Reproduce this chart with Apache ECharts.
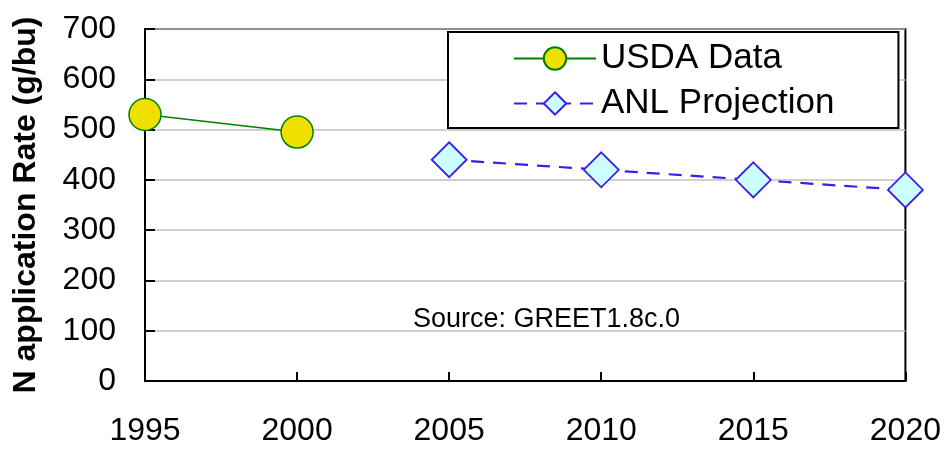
<!DOCTYPE html>
<html>
<head>
<meta charset="utf-8">
<script src="https://cdn.jsdelivr.net/npm/echarts@6/dist/echarts.min.js"></script>
<style>
  html, body { margin: 0; padding: 0; background: #fff; }
  #chart { width: 944px; height: 449px; }
</style>
</head>
<body>
<div id="chart"></div>
<script>
// Nitrogen application rate per bushel of corn
const usdaYears = [1995, 2000];
const usdaValues = [530, 495];
const anlYears = [2005, 2010, 2015, 2020];
const anlValues = [440, 420, 400, 380];
const yTicks = [0, 100, 200, 300, 400, 500, 600, 700];
const xTicks = [1995, 2000, 2005, 2010, 2015, 2020];
const yTitle = 'N application Rate (g/bu)';
const sourceNote = 'Source: GREET1.8c.0';
const seriesNames = ['USDA Data', 'ANL Projection'];

const FONT = '"Liberation Sans", Arial, sans-serif';
const pair = (xs, ys) => xs.map((x, i) => [x, ys[i]]);

const chart = echarts.init(document.getElementById('chart'), null, { renderer: 'canvas' });
chart.setOption({
  animation: false,
  backgroundColor: '#ffffff',
  textStyle: { fontFamily: FONT, color: '#000' },
  title: {
    text: sourceNote,
    left: 413,
    top: 306,
    padding: 0,
    textStyle: { fontFamily: FONT, fontSize: 27, fontWeight: 'normal', color: '#000' }
  },
  grid: {
    left: 145, top: 29, right: 37, bottom: 68,
    show: true, borderColor: '#000', borderWidth: 2, backgroundColor: 'transparent'
  },
  legend: {
    orient: 'vertical',
    left: 448,
    top: 32,
    padding: [9, 64, 7, 65],
    itemWidth: 82,
    itemHeight: 28,
    itemGap: 10,
    itemTextGap: 20,
    borderColor: '#000',
    borderWidth: 2,
    backgroundColor: '#fff',
    textStyle: { fontFamily: FONT, fontSize: 35, color: '#000' },
    data: seriesNames
  },
  xAxis: {
    type: 'value',
    min: xTicks[0],
    max: xTicks[xTicks.length - 1],
    interval: 5,
    axisLine: { show: true, lineStyle: { color: '#000', width: 2 } },
    axisTick: { show: true, inside: true, length: 9, lineStyle: { color: '#000', width: 2 } },
    axisLabel: { fontFamily: FONT, fontSize: 32, color: '#000', margin: 34, formatter: v => String(v) },
    splitLine: { show: false }
  },
  yAxis: {
    type: 'value',
    min: yTicks[0],
    max: yTicks[yTicks.length - 1],
    interval: 100,
    name: yTitle,
    nameLocation: 'middle',
    nameRotate: 90,
    nameGap: 103,
    nameTextStyle: { fontFamily: FONT, fontSize: 32, fontWeight: 'bold', color: '#000' },
    axisLine: { show: true, lineStyle: { color: '#000', width: 2 } },
    axisTick: { show: true, inside: true, length: 10, lineStyle: { color: '#000', width: 2 } },
    axisLabel: { fontFamily: FONT, fontSize: 32, color: '#000', margin: 29 },
    splitLine: { show: true, lineStyle: { color: '#c0c0c0', width: 1.5 } }
  },
  series: [
    {
      name: seriesNames[0],
      type: 'line',
      data: pair(usdaYears, usdaValues),
      clip: false,
      symbol: 'circle',
      symbolSize: 32,
      lineStyle: { color: '#008000', width: 1.5 },
      itemStyle: { color: '#f0e000', borderColor: '#008000', borderWidth: 1.5 },
      z: 5
    },
    {
      name: seriesNames[1],
      type: 'line',
      data: pair(anlYears, anlValues),
      clip: false,
      symbol: 'diamond',
      symbolSize: [35, 35],
      lineStyle: { color: '#3a1ee6', width: 2.2, type: [13, 9] },
      itemStyle: { color: '#ccffff', borderColor: '#3a1ee6', borderWidth: 1.8 },
      z: 5
    }
  ]
});
</script>
</body>
</html>
